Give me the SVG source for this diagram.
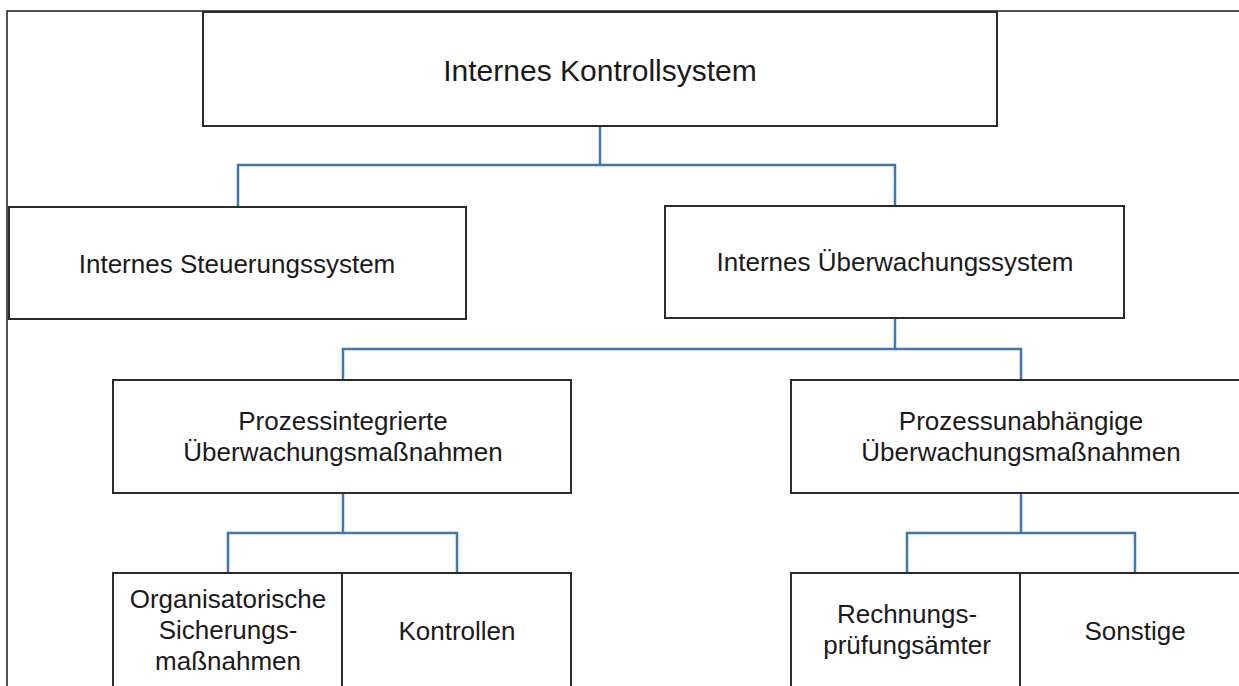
<svg xmlns="http://www.w3.org/2000/svg" width="1239" height="686" viewBox="0 0 1239 686">
<style>
.box{fill:#fff;stroke:#2b2b2b;stroke-width:2}
.frame{fill:none;stroke:#1a1a1a;stroke-width:1.5}
.conn{fill:none;stroke:#4177ad;stroke-width:2.5}
text{font-family:"Liberation Sans",Arial,sans-serif;font-size:26px;fill:#1a1a1a;text-anchor:middle}
</style>
<rect width="1239" height="686" fill="#fff"/>
<rect class="frame" x="7" y="11" width="1260" height="700"/>
<g id="connectors">
<path class="conn" d="M600 126V165M238 207V165H895V207"/>
<path class="conn" d="M895 318V349M343 380V349H1021V380"/>
<path class="conn" d="M343 493V533M228 573V533H457V573"/>
<path class="conn" d="M1021 493V533M907 573V533H1135V573"/>
</g>
<g id="n-ics">
<rect class="box" x="203" y="12" width="794" height="114"/>
<text x="600" y="81" style="font-size:30px">Internes Kontrollsystem</text>
</g>
<g id="n-steuerung">
<rect class="box" x="9" y="207" width="457" height="112"/>
<text x="237" y="273">Internes Steuerungssystem</text>
</g>
<g id="n-ueberwachung">
<rect class="box" x="665" y="206" width="459" height="112"/>
<text x="895" y="271">Internes Überwachungssystem</text>
</g>
<g id="n-integriert">
<rect class="box" x="113" y="380" width="458" height="113"/>
<text x="343" y="430">Prozessintegrierte</text>
<text x="343" y="461">Überwachungsmaßnahmen</text>
</g>
<g id="n-unabhaengig">
<rect class="box" x="791" y="380" width="470" height="113"/>
<text x="1021" y="430">Prozessunabhängige</text>
<text x="1021" y="461">Überwachungsmaßnahmen</text>
</g>
<g id="n-organisatorisch">
<rect class="box" x="113" y="573" width="229" height="130"/>
<text x="228" y="608">Organisatorische</text>
<text x="228" y="639">Sicherungs-</text>
<text x="228" y="670">maßnahmen</text>
</g>
<g id="n-kontrollen">
<rect class="box" x="342" y="573" width="229" height="130"/>
<text x="457" y="640">Kontrollen</text>
</g>
<g id="n-rechnung">
<rect class="box" x="791" y="573" width="229" height="130"/>
<text x="907" y="623">Rechnungs-</text>
<text x="907" y="654">prüfungsämter</text>
</g>
<g id="n-sonstige">
<rect class="box" x="1020" y="573" width="240" height="130"/>
<text x="1135" y="640">Sonstige</text>
</g>
</svg>
